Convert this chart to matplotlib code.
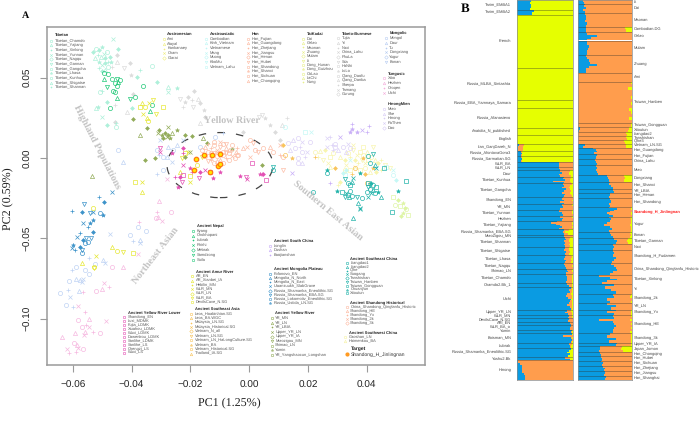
import numpy as np
import matplotlib
matplotlib.use('Agg')
import matplotlib.pyplot as plt
from matplotlib.patches import Ellipse

plt.rcParams['font.family'] = ['Liberation Sans', 'DejaVu Sans']
plt.rcParams['text.hinting'] = 'no_hinting'
plt.rcParams['text.hinting_factor'] = 1

W, H = 699, 426

# PCA points, in thousandths of PC1 / PC2
tibetan_xy = [(-53,66),(-52,68),(-51.5,64),(-51,67),(-50.5,63),(-50,69),(-49.5,65),(-49,62),(-48.5,66),(-48,60),
    (-47.5,63),(-52.5,62),(-51,60),(-50,58),(-49,59),(-48,57),(-51,56),(-50,54),(-49,55),(-47,60),(-46.3,74),(-44.5,68),
    (-50.8,41),(-50,42),(-48.5,35),(-52,31),(-51.5,32),(-50.2,25.7),(-48.3,20.5),(-45.4,19.5),(-45.2,22),(-31.5,47.5),
    (-27.5,44),(-24.7,43.4),(-27.8,41),(-38.3,50.6),(-33.2,57.5),(-37.2,54.8),(-40,31.3)]
nepal_xy = [(-49.4,53),(-48,52.3),(-49.3,49),(-46.8,49),(-45.1,49),(-43.8,48.5),(-45.7,46.5),(-44.6,47.5),(-45.1,44.8),
    (-48.3,44),(-46.3,41.9),(-45.5,41.3),(-44.9,37.5),(-47.4,31.3),(-40.6,36.7),(-38.9,38.2),(-36.3,44.8),(-33.6,29.3),(-33.2,33)]
grey_xy = [(-45.1,64),(-44.9,60),(-46.6,56.8),(-40.6,59),(-42.6,55.8),(-40.2,51.7),(-39.5,39.8),(-41.7,28.8),(-45.7,33),
    (-45.5,22.6),(-23.6,37),(-21.9,35),(-18.8,41.9),(-17.3,37),(-19.6,36),(-16.8,34),(-19,32),(-15.4,29.9),(-15.1,25.7),
    (-16.8,21.6),(-22.4,32),(-20.7,38),(4.2,26.8),(7,20.5),(8.7,16.4),(11,20.5),(12.7,24.7),(10.4,11.2),(3.4,25.7),(5.3,24.7),(-2,16.4)]
amur_xy = [(-36.6,34.4),(-35.3,31.5),(-32.9,36),(-37.2,31.5),(-36,27.2),(-34.9,24.7),(-34.3,23.2),(-31.7,27.2),(-29.3,31.7),
    (-34,34),(-46.8,-55.5),(-45.1,-58),(-42.9,-58.7),(-39.7,-59.3),(-52.2,-60.8),(-57,-65.6),(-52.8,-67.6),(-52.8,-68.6),
    (-38.9,-14.7),(-36.6,-14.7),(-36.6,-21),(-53.3,-31.3),(-23,-0.1),(-21.9,2.9),(-20.7,3.9),(-23.6,-8.5),(-17.9,-4.4),
    (-16.2,0.8),(-20.2,-11.2),(-20,-14.7)]
yellow_river_xy = [(-39.5,24.3),(-34.9,18.5),(-37,14.3),(-30.6,17.4),(-27.6,19.5),(-24.7,17.4),(-21.9,14.3),(-19.3,13.9),
    (-15.6,12.2),(-14.5,9.1),(-31,15.4),(-29.8,14.3),(-28.7,15.4),(-27.6,14.3),(-26.4,15.4),(-29.3,12.2),(-28.1,12.9),
    (-27,12.2),(-32,-0.2),(-35.5,-1.2),(-53.6,-11.2),(-21.9,0.8),(-20.2,3.9),(-5.7,5.6),(4.5,-4.4)]
light_blue_xy = [(-44.6,5),(-43.1,-2.7),(-30.4,11.2),(-31.5,5),(-30.6,1.9),(-29.3,0.8),(-27.6,7),(-26.4,-2.3),(-29.3,-7.5),
    (-31.5,-10),(-26,5),(-24.7,8),(-22.4,11.2),(-11.6,12.9),(-8.8,15.4),(-16.8,7),(-28.1,0.8),(-47.2,-47.3),(-40.6,-47.9),
    (-54.4,-62.4),(-52.5,-66.2),(-49.6,-63.2),(-49,-65.4),(-59,-67.6),(-60.4,-69.7),(-54.4,-72.2),(-59,-75),(-57,-77),
    (-61.2,-76.6),(-61.8,-82),(-64.4,-83.8),(-57.8,-82.8),(-61,-86.7),(-62.3,-91.5),(-60,-93),(-55.9,-69.7),(-57.6,-75.9),
    (-56.5,-75.3),(-37.8,-42.7),(-39.7,-51.5),(-35.1,-45.2),(-37.2,-51),(-37,-53)]
plateau_xy = [(-60.4,-56.2),(-59.2,-57.2),(-57.5,-55.2),(-57,-57.2),(-57,-59.3),(-59.9,-54.1),(-58.7,-48.9),(-57.6,-46.9),
    (-56.5,-51),(-55.4,-50),(-55.9,-53),(-54.2,-40.7),(-56.5,-40.2),(-54.8,-42.7),(-53.1,-45.8),(-53.7,-50),(-50.8,-34.4),
    (-49.6,-35.5),(-53,-33.4),(-60.4,-33),(-56.8,-33.4),(-54.2,-34.4),(-54.8,-52),(-53,-38.6),(-46.8,-21.4),(-51,-24),
    (-49.4,-27.6),(-56.1,-28.6)]
pink_xy = [(-58.2,-92),(-55.9,-95.7),(-58.2,-100.8),(-54.4,-100.4),(-48.8,-101.2),(-55.6,-104),(-57,-105),(-63.8,-111.6),
    (-62,-118.9),(-61.2,-121.2),(-59.5,-115.4),(-58.5,-116.4),(-58.2,-118.5),(-59,-120.5),(-56.5,-119),(-55.9,-108),
    (-54.4,-105),(-53.3,-108),(-50.6,-108.7),(-59.3,-108.7),(-56.2,-110),(-56.5,-83.2),(-52,-82.8),(-50.2,-81.7),(-49.4,-78),
    (-47.8,-80),(-46.8,-67.6),(-43.1,-68),(-37.9,-59.7),(-37.5,-39.6),(-31.7,-37.6),(-31,-36.5),(-29.8,-39.1),(-31.5,-33.4),
    (-26.6,-33.4),(-30.7,-26.8),(-28.1,-13)]
magenta_xy = [(-30.4,6.4),(-30.2,3.9),(-26.4,2.9),(-25.3,-12),(-23.6,-11.6),(-22.4,-10.6),(-24.1,-17.8),(-23,-14.7),
    (-22.4,-4.4),(-20.2,-6.4),(-19.6,-8.5),(-16.8,-8.5),(-13.4,-8.9),(-12.2,-12.7),(-17,-12.7),(-15.1,-7.5),(-10,-8.5),
    (-22.4,2.9),(-22.4,6),(0.8,-3.3),(-3,-11.2),(-1.1,-11.6),(-0.9,-13.3),(3.6,-10),(4.2,-10),(4.8,-10),(5.7,-13.7)]
han_xy = [(-16,5),(-15,7),(-14,4),(-13,6),(-12,8),(-11,5),(-10,7),(-9,4),(-8,6),(-7,3),(-6,5),(-15,1),(-13,0),(-12,3),(-11,1),
    (-10,-1),(-9,2),(-8,0),(-7,-1),(-6,1),(-14,-2),(-12,-3),(-11,-2),(-9,-3),(-14,9),(-12,10),(-10,10),(-8,9),(-6,8),(-4.5,4),
    (-3.7,1.9),(-16,2),(-13,3),(-11,4),(-8,3),(-10,3),(-7,5),(-9,9),(-13,-1),(-5,0),(-0.9,7),(1.4,9.1),(0.2,11.2),(-2,6),
    (-4.3,1.9),(-4.3,6),(1.9,5),(0.2,0.8),(3,3.9),(4.8,6),(7,7),(8.2,3.9),(10.4,1.9),(11.6,0.8),(10.4,8),(11.6,-7.5)]
lavender_xy = [(35.1,21),(36.5,16.4),(38.2,17.4),(40.8,20),(34.2,16.4),(31,12.9),(39.9,16.4),(35,18),(14.4,-9.5),(27.4,-15.4)]
hmong_xy = [(13.3,9.1),(15,11.2),(16.7,12.2),(17.8,10.2),(17.2,7),(15.5,6),(13.8,5),(17.8,3.9),(19.5,3.9),(18.9,0.8),
    (16.7,-0.2),(17.8,-3.3),(16.5,-3.3),(26.3,12.2),(27.4,13),(29.1,7),(30.3,5),(32,7),(33.7,9),(28,8),(29.1,9),(33,3.9),
    (34.2,6),(26.3,7),(28.6,5),(20.6,10.2)]
gold_xy = [(11.6,8.1),(12.1,1.9),(14.4,-0.2),(22.3,0.8),(29.1,-6),(35.9,-6),(42.2,-6.4),(34.8,-10),(39.3,-10.2),(39.9,-15.8),(38.8,-0.2)]
teal_xy = [(33.7,-23),(32.5,-24),(34.8,-23.4),(34,-24.4),(33,-22),(31.7,-21),(29.7,-20.3),(34.2,-20.5),(32.5,-13.3),(33.7,-15.4),
    (34.8,-14.7),(35.4,-12.7),(34.2,-16.8),(37.6,-9.5),(40.5,1.2),(42.2,2.3),(41,-3.3),(42.8,-4.4),(43.3,-6.4),(45.8,-6.4),
    (26.3,-7.5),(26.3,-9.5),(36.7,-24),(38.2,-25),(37,-28.2),(37.6,-31.3),(40.5,-15.8),(41.6,-15.8),(42.2,-16.8),(40.5,-17.8),
    (41,-19),(42.2,-20),(41.6,-22),(43.3,-17.8),(43.9,-21),(39.9,-21),(41,-16.8),(42.8,-22),(45,-24),(40.5,-24),(53.3,-14),
    (50.7,-20.3),(21.8,-21),(8.2,-5.4),(8,-7.5),(35.4,-37),(37.6,-32),(48.7,-33.4)]
pale_green_xy = [(49,-24),(50.7,-26),(52.4,-28.2),(49.5,-29),(51.2,-30),(53,-31.3),(52.4,-34),(53.5,-32),(54,-35.6),(51.8,-36)]
aqua_xy = [(32,-9.5),(46.7,-5.4),(49,-7.5),(49,-10.6),(50,-13.7),(19,16.4),(21,16.4),(12.1,19.5),(33,-7.5),(32.5,-10.6),(34.2,-1.2)]
pale_yellow_xy = [(22.3,3.9),(24,4.6),(25.7,5),(23.5,0.8),(25.2,-1.2),(26.9,-3.3),(27.4,0.8),(28.6,2.9),(30.8,0.8),(32.5,-1.2),
    (34.2,0.8),(35.4,5),(36.5,1.9),(37.6,3.9),(38.8,1.9),(39.9,3.9),(36,-1.2),(37,-3.3),(38.2,-1.2),(39.3,-3.3),(40.5,-1.2),
    (41.6,0.8),(42.8,-1.2),(43.9,-3.3),(45,-1.2),(46.1,-4.4),(36,-5.4),(37.6,-7.5),(39.3,-6.4),(41,-8.5),(43.3,-8.5),(45,-7.5),
    (47.8,-6.4),(33,-4.4),(34.2,-7.5),(32.5,-7.5),(27.4,-5.4),(30.8,-14.7),(30.2,-16.8),(42.2,7),(35.4,8),(38.8,7),(33.7,2.9)]
target_xy = [(-15.4,2),(-12.8,2),(-10,2.5),(-18.1,-0.8),(-10.5,-4.8),(-9.8,-3.7),(-18.8,-7.5),(-13.4,-8.5)]

# legend names
tibetan_names = ['Tibetan_Chamdo','Tibetan_Yajiang','Tibetan_Xinlong','Tibetan_Yunnan','Tibetan_Nagqu','Tibetan_Gannan',
    'Tibetan_Gangcha','Tibetan_Lhasa','Tibetan_Kunhua','Tibetan_Shigatse','Tibetan_Shannan']
austronesian_names = ['Ami','Atayal','Kankanaey','Cham','Giarai']
austroasiatic_names = ['Cambodian','Kinh_Vietnam','Vietnamese','Mang','Muong','KhoMu','Vietnam_Lahu']
han_names = ['Han_Fujian','Han_Guangdong','Han_Zhejiang','Han_Jiangsu','Han_Henan','Han_Hubei','Han_Shandong','Han_Shanxi',
    'Han_Sichuan','Han_Chongqing']
taikadai_names = ['Dai','Gelao','Maonan','Zhuang','Mulam','Li','Dong_Hunan','Dong_Guizhou','CoLao','LaChi','Nung']
tibeto_names = ['Tujia','Yi','Naxi','China_Lahu','PhuLa','Sila','HaNhi','LoLo','Qiang_Daofu','Qiang_Danba','Sherpa','Tamang','Gurung']
mongolic_names = ['Mongol','Daur','Tu','Dongxiang','Yugur','Bonan']
tungusic_names = ['Xibo','Hezhen','Oroqen','Ulchi']
hmongmien_names = ['Miao','She','Hmong','PaThen','Dao']
nepal_names = ['Kyang','Chokhopani','Lubrak','Rhirhi','Mebrak','Samdzong','Suila']
amur_names = ['AR_EN','AR_Xianbei_IA','Hebilin_MN','WLR_MN','WLR_LN','WLR_BA','DevilsCave_N.SG']
se_asia_names = ['Laos_Hoabinhian.SG','Laos_BA.WGC','Malaysia_LN.SG','Malaysia_Historical.SG','Vietnam_N_all','Vietnam_LN.SG',
    'Vietnam_LN_HaLongCulture.SG','Vietnam_BA','Vietnam_Historical.SG','Thailand_IA.SG']
yr_lower_names = ['Shandong_EN','Luxi_MDMK','Fujia_LDMK','Xiuahou_LDMK','Wuxi_LDMK','Dawenkou_LDMK','Sanlihe_LDMK','Sanlihe_LS',
    'Chengzi_LS','Wuxi_LS']
south_china_names = ['Longlin','Dushan','Baojianshan']
plateau_names = ['Fofonovo_EN','Mongolia_N_North','Mongolia_N_East','Ulaanzuukh_SlabGrave','Russia_Shamanka_Eneolithic.SG',
    'Russia_Shamanka_EBA.SG','Russia_Lokomotiv_Eneolithic.SG','Russia_Ustida_LN.SG']
yellow_river_names = ['YR_MN','YR_LN','YR_LBIA','Upper_YR_LN','Upper_YR_IA','Miaozigou_MN','Shimao_LN','Yumin','YR_Yangshaocun_Longshan']
se_china_names = ['Liangdao1','Liangdao2','Qihe','Suogang','Tanshishan','Taiwan_Hanben','Taiwan_Gongguan','Chuanyun','Xitoutun']
shandong_names = ['China_Shandong_Qinglanfu_Historic','Shandong_HE','Shandong_Yx','Shandong_2k','Shandong_3k']
sw_china_names = ['Gaoshan_LN','Haimenkou_BA']

# structure panel, each group: name, height in rows, sampled blue and yellow shares (orange is the rest)
left_names = ['Tarim_EMBA1','Tarim_EMBA2','French','Russia_MLBA_Sintashta','Russia_EBA_Yamnaya_Samara','Russia_Afanasievo',
    'Anatolia_N_published','English','Iran_GanjDareh_N','Russia_AfontovaGora3','Russia_Sarmatian.SG','WLR_BA','WLR_LN','Daur',
    'Tibetan_Kunhua','Tibetan_Gangcha','Shandong_EN','YR_MN','Tibetan_Yunnan','Hezhen','Tibetan_Yajiang','Russia_Shamanka_EBA.SG',
    'MiaoZigou_MN','Tibetan_Shannan','Tibetan_Shigatse','Tibetan_Lhasa','Tibetan_Nagqu','Shimao_LN','Tibetan_Chamdo','Chamdo2.Bk_1',
    'Ulchi','Upper_YR_LN','WLR_MN','DevilsCave_N.SG','ARl_EN','WLR_BA_o','Yumin','Boisman_MN','Lubrak',
    'Russia_Shamanka_Eneolithic.SG','Yushu2.Bk','Hmong']
left_sizes = [10,4.5,53.5,31.5,8,20.5,7,9,7,5,6,5,3,7,6,14,7,6,6,5,8,6,2,10,7.5,8.5,6,5,9,4,23,5,3,4,3,4.5,3.5,10,5,9,3,20]
left_blue = [[.26,.24,.25,.25,.24],[.3,.27,.28],[.01],[.01],[.01],[.01],[.01],[.01],[.04,.03,.02],[.08,.09,.08],[.08,.09,.07],
    [.75,.76,.75],[.76,.78],[.78,.8,.76,.78],[.84,.82,.87,.65,.84],[.83,.85,.8,.88,.84,.8,.86,.85],[.82,.8,.84,.78,.85],
    [.8,.82,.78],[.75,.8,.82],[.78,.82,.8],[.72,.62,.7,.78,.8,.75],[.84,.83,.85],[.85],[.86,.88,.85,.87,.84,.86],[.87,.85,.88,.86],
    [.88,.86,.84,.88,.87],[.84,.86,.88],[.9,.92,.88],[.88,.9,.89,.88],[.9,.93],[.97,.93,.96,.9,.88,.92,.97,.95,.93,.9,.95,.97],
    [.9,.87,.92],[.93,.92],[.94,.92],[.95,.97],[.97,.96],[.98,.97],[.98,.83,.97,.99,.97],[.93,.95,.96],[.97,.93,.9,.95,.92],
    [.86,.95],[.03,.05,.09,.1,.1,.13,.14,.15]]
left_yellow = [[.74,.76,.75,.75,.76],[.7,.73,.72],[.99],[.99],[.99],[.99],[.99],[.99],[.87,.88,.88],[.9,.9,.91],[.9,.9,.91],
    [0],[0],[.05,.06,.07,.03],[.04,.03,.05,.04,.03],[.02,.05,.06,.04,.03,.05,.03,.02],[0,0,.01],[.01,0,0],[.02,.01,0],[.02,0,0],
    [0,.01,.02,0,.01,0],[.06,.14,.09],[0],[.05,.07,.06,.05,.06,.04],[.07,.06,.05,.07],[.03,.02,.03,.02,.03],[0,.01,0],[.01,.02,0],
    [.01,.02,.01,.01],[.02,.02],[.01,.02,.01,.03,.02,.02,.03,.02,.02,.01,.02,.01],[.03,.02,.01],[.01],[0],[0],[0],[.02,.01],
    [.01,0,.02,0,.01],[.02,.03,.03],[.03,.07,.1,.05,.08],[.04,.05],[0]]
right_names = ['Li','Dai','Maonan','Cambodian.DG','Gelao','Mulam','Zhuang','Ami','Taiwan_Hanben','Taiwan_Gongguan','Xitoutun',
    'Liangdao2','Tanshishan','Qihe3','Vietnam_LN.SG','Han_Guangdong','Han_Fujian','China_Lahu','Miao','Dongxiang','Han_Shanxi',
    'YR_LBIA','Han_Henan','Han_Shandong','Shandong_H_Jinlingnan','Yugur','Bonan','Tibetan_Gannan','Naxi','Shandong_H_Fudamen',
    'China_Shandong_Qinglanfu_Historic','Tibetan_Xinlong','Yi','Shandong_2k','YR_LN','Shandong_Yx','Shandong_HE','Shandong_3k',
    'Upper_YR_IA','Japan_Jomon','Han_Chongqing','Han_Hubei','Han_Sichuan','Han_Zhejiang','Han_Jiangsu','Han_Shanghai']
right_sizes = [3.5,9.2,14.3,4.5,9,14.5,17.5,9,41.5,4,5,3.5,4,4,4,6,5,6,10,7,7,4.5,5,9,9.5,15.5,6,6,6,13,12,9,9.5,9.5,6.5,5.5,18,
    9.5,3.5,6,4,4.5,5.5,5,5,4]
right_blue = [[.1,.12],[.13,.12,.15,.1,.13],[.14,.15,.16,.13,.17,.15],[.15,.15],[.15,.18,.36,.25,.17],[.17,.18,.2,.19,.17,.18],
    [.15,.17,.2,.22,.35,.2,.15,.16],[0],[0],[.01],[.04,.03],[0],[0],[0],[.13,.1],[.28,.34,.36,.3],[.35,.33],[.32,.34,.36],
    [.34,.36,.33,.35,.37],[.55,.56,.58],[.6,.58,.62,.65],[.66,.68],[.6,.58],[.6,.62,.58,.6],[.58,.72,.68,.6,.55,.58,.65],
    [.58,.62,.6,.55,.48,.6,.63,.58],[.6,.62,.65],[.68,.72,.7],[.65,.68,.66],[.66,.68,.65,.7,.67,.64],[.62,.68,.7,.72,.65,.6],
    [.4,.6,.72,.55,.45],[.68,.5,.62,.7],[.65,.68,.55,.6],[.55,.7,.62],[.7,.55,.68],[.65,.68,.4,.66,.68,.7,.67,.65,.66],[.6,.55,.7,.58],
    [.72,.7],[.42,.42,.4],[.42,.43],[.43,.45],[.44,.46,.45],[.46,.5,.48],[.5,.48],[.52,.5]]
right_yellow = [[0],[0],[0],[.12,.11],[0],[0],[0],[0],[.01,0,.06,0,0,.01,0,.02,0,.05,.01,0,.05,0],[.01],[.05,.07],[.1,.08],[.1,.08],
    [.15,.13],[.1,.1],[0],[0],[0],[0],[.14,.12,.15],[0],[0],[0],[0],[.02,.01,0,0],[.03,.02,.01,.02],[.03,.02],[.07,.08],[0],[0],[0],
    [0],[0],[.02,.03,0],[0],[.01,.02],[.01,0,.03,0,.02,0],[.01,.02],[.02],[.18,.19,.17],[0],[0],[0],[0],[0],[0]]

# style of each PCA series: points, colour, marker sequence. D and * get drawn filled
series = [
    (grey_xy, '#dcdcdc', ['D','^','+','D','v','*']),
    (tibetan_xy, '#aef0da', ['D','o','+','D','^','*','x']),
    (nepal_xy, '#1fc877', ['o','o','^','o','v']),
    (light_blue_xy, '#bfd3f4', ['o','^','x','o','+']),
    (plateau_xy, '#3d93c9', ['x','+','D','v','o','*']),
    (pink_xy, '#f6b8e0', ['x','+','o','^']),
    (amur_xy, '#e6e836', ['^','o','v','s','x']),
    (yellow_river_xy, '#93ac5a', ['D','D','^','D','x','*']),
    (magenta_xy, '#e350b4', ['v','x','*','+','D','s','*']),
    (pale_yellow_xy, '#f8f5ae', ['o','^','D','+','v','x','s']),
    (pale_green_xy, '#def5a4', ['s','D','*','o']),
    (aqua_xy, '#c6f8f6', ['D','s','x','o']),
    (hmong_xy, '#ddd3f7', ['o','^','o','x','+']),
    (lavender_xy, '#c9aff7', ['+','*','x']),
    (han_xy, '#fdbfa9', ['o','^','o','+','o','x','v']),
    (gold_xy, '#f8c45c', ['D','o','*','+']),
    (teal_xy, '#22b3aa', ['o','v','o','^','x','s','*']),
]

fig = plt.figure(figsize=(W / 100, H / 100), dpi=100)

def px_axes(x0, y0, x1, y1):
    return fig.add_axes([x0 / W, 1 - y1 / H, (x1 - x0) / W, (y1 - y0) / H])

# panel A
ax = px_axes(46.7, 27, 424.7, 365)
ax.set_xlim(-0.0689, 0.0597)
ax.set_ylim(-0.1288, 0.0816)
for s in ax.spines.values():
    s.set_color('#9a9a9a')
    s.set_linewidth(1.1)
ax.set_xticks([-0.06, -0.04, -0.02, 0.0, 0.02, 0.04])
ax.set_xticklabels(['\u22120.06', '\u22120.04', '\u22120.02', '0.00', '0.02', '0.04'])
ax.set_yticks([-0.10, -0.05, 0.0, 0.05])
ax.set_yticklabels(['\u22120.10', '\u22120.05', '0.00', '0.05'], rotation=90, va='center')
ax.tick_params(axis='x', length=5, width=0.8, color='#9a9a9a', labelsize=7.5, pad=6, labelcolor='#222222')
ax.tick_params(axis='y', length=5, width=0.8, color='#9a9a9a', labelsize=7.5, pad=5, labelcolor='#222222')

for pts, col, marks in series:
    for i, (x, y) in enumerate(pts):
        m = marks[i % len(marks)]
        filled = m in 'D*'
        ax.plot(x * 1e-3, y * 1e-3, m, mfc=col if filled else 'none', mec=col,
                ms=2.0 if m == 'D' else 3.0, mew=0.4 if filled else 0.5, ls='')
for x, y in target_xy:
    ax.plot(x * 1e-3, y * 1e-3, 'o', mfc='#ffe600', mec='#ff7a10', ms=3.2, mew=0.9)

ax.add_patch(Ellipse((-0.00997, -0.00436), 0.036, 0.0405, fill=False, ec='#444444', lw=0.9, ls=(0, (6, 9))))

# overlay in pixels for the labels and legends
ov = fig.add_axes([0, 0, 1, 1], facecolor='none')
ov.set_xlim(0, W)
ov.set_ylim(H, 0)
ov.axis('off')

serif = ['Liberation Serif', 'DejaVu Serif']
ov.text(26, 16, 'A', family=serif, weight='bold', fontsize=7.5, ha='center', va='center')
ov.text(465.5, 9, 'B', family=serif, weight='bold', fontsize=9, ha='center', va='center')
ov.text(229, 403, 'PC1 (1.25%)', family=serif, fontsize=8.5, ha='center', va='center', color='#222222')
ov.text(8, 199, 'PC2 (0.59%)', family=serif, fontsize=8.5, ha='center', va='center', rotation=90, color='#222222')

big = dict(family=serif, weight='bold', color='#c2c2c2', ha='center', va='center', rotation_mode='anchor')
ov.text(96, 147, 'Highland Populations', fontsize=7, rotation=-63, **big)
ov.text(232, 122, 'Yellow River', fontsize=7.5, **big)
ov.text(327, 211, 'Southern East Asian', fontsize=7, rotation=-40, **big)
ov.text(156, 256, 'Northeast Asian', fontsize=7, rotation=52, **big)

def legend(title, names, col, x, title_y, first_y, step, marks=('o', '^', '+', 'x', 'D', 'v', 's', '*')):
    ov.text(x, title_y, title, fontsize=2.9, weight='bold', va='center', color='#222222')
    for i, n in enumerate(names):
        y = first_y + i * step
        ov.text(x, y, n, fontsize=2.9, va='center', color='#555555')
        ov.plot(x - 3.8, y, marks[i % len(marks)], mfc='none', mec=col, ms=1.8, mew=0.4)

legend('Tibetan', tibetan_names, '#a2efd4', 55, 35.3, 40.7, 4.67)
legend('Austronesian', austronesian_names, '#f0ee80', 167.3, 34.3, 39, 4.75)
legend('Austroasiatic', austroasiatic_names, '#bff7f5', 210, 34.3, 38.7, 4.67)
legend('Han', han_names, '#fdb8a0', 252, 34.3, 38.7, 4.67)
legend('TaiKadai', taikadai_names, '#e8f08a', 307, 34.3, 38.7, 4.36)
legend('Tibeto-Burmese', tibeto_names, '#d6d6d6', 342, 33.7, 38.3, 4.67)
legend('Mongolic', mongolic_names, '#b8cdf2', 389.3, 33.3, 38, 4.8)
legend('Tungusic', tungusic_names, '#f4aedc', 387.7, 73.7, 78.3, 4.8)
legend('HmongMien', hmongmien_names, '#d8cdf6', 387.7, 104, 108.7, 4.8)
legend('Ancient Nepal', nepal_names, '#1fc877', 196.7, 225.7, 230.7, 4.85)
legend('Ancient Amur River', amur_names, '#e6e836', 195.7, 272, 276.3, 4.33)
legend('Ancient Southeast Asia', se_asia_names, '#f8c45c', 194.7, 309.3, 313.7, 4.44)
legend('Ancient Yellow River Lower', yr_lower_names, '#e350b4', 128, 313.3, 317.3, 3.92, marks=('s',))
legend('Ancient South China', south_china_names, '#c5a9f6', 274, 241, 245.7, 4.67)
legend('Ancient Mongolia Plateau', plateau_names, '#3d93c9', 274, 269.3, 273.7, 4.25)
legend('Ancient Yellow River', yellow_river_names, '#93ac5a', 275.3, 313.3, 318.3, 4.55)
legend('Ancient Southeast China', se_china_names, '#22b3aa', 350.3, 259, 263, 3.8)
legend('Ancient Shandong Historical', shandong_names, '#fdb8a0', 350.3, 302.7, 307, 4.1)
legend('Ancient Southwest China', sw_china_names, '#f6f3a4', 348.7, 332.7, 337, 4.33)
ov.text(351.3, 348.7, 'Target', fontsize=3.6, weight='bold', va='center', color='#222222')
ov.text(351, 354.3, 'Shandong_H_Jinlingnan', fontsize=3.6, va='center', color='#333333')
ov.plot(346.7, 354.3, 'o', color='#ff9a20', ms=2)

# panel B
BLUE, ORANGE, YELLOW = '#0a9be2', '#ff9d4d', '#e6ff00'

def structure(x0, x1, names, sizes, blue, yellow):
    a = px_axes(x0, 0, x1, 380)
    a.set_xlim(0, 1)
    a.set_ylim(380, 0)
    a.set_xticks([])
    a.set_yticks([])
    for s in a.spines.values():
        s.set_color('#8a8a8a')
        s.set_linewidth(0.5)
    top = 0
    centres = []
    for name, size, bl, ye in zip(names, sizes, blue, yellow):
        n = max(len(bl), len(ye))
        h = size / n
        for i in range(n):
            b = bl[i % len(bl)]
            y = ye[i % len(ye)]
            o = 1 - b - y
            yy = top + (i + 0.5) * h
            a.barh(yy, b, height=h, color=BLUE, lw=0)
            a.barh(yy, o, left=b, height=h, color=ORANGE, lw=0)
            a.barh(yy, y, left=b + o, height=h, color=YELLOW, lw=0)
        centres.append(top + size / 2)
        top += size
        a.axhline(top, color='#30302a', lw=0.4, alpha=0.65)
    return centres

left_y = structure(516.7, 572.7, left_names, left_sizes, left_blue, left_yellow)
right_y = structure(577.7, 631.7, right_names, right_sizes, right_blue, right_yellow)

for name, y in zip(left_names, left_y):
    ov.text(511.3, y, name, fontsize=2.9, ha='right', va='center', color='#444444')
for name, y in zip(right_names, right_y):
    if name == 'Shandong_H_Jinlingnan':
        ov.text(634, y, name, fontsize=3.1, ha='left', va='center', color='#ff1a1a', weight='bold')
    else:
        ov.text(634, y, name, fontsize=2.9, ha='left', va='center', color='#444444')

fig.savefig('out.png', dpi=100)
